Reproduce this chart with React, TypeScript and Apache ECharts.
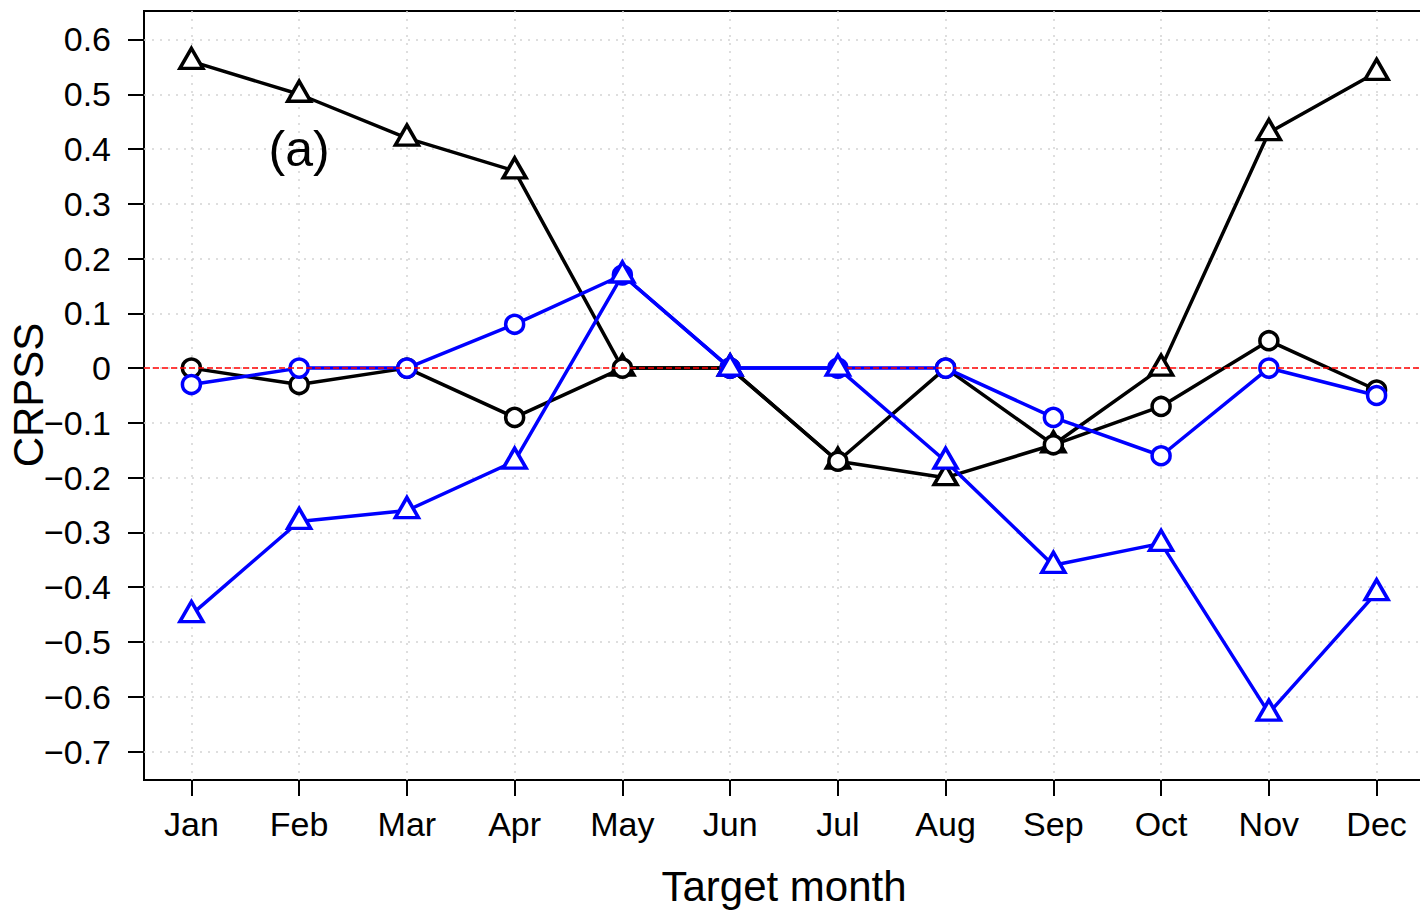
import React, { useEffect, useRef } from "react";
import * as echarts from "echarts";

const months = ["Jan", "Feb", "Mar", "Apr", "May", "Jun", "Jul", "Aug", "Sep", "Oct", "Nov", "Dec"];
const monthIdx = [0, 1, 2, 3, 4, 5, 6, 7, 8, 9, 10, 11];
const yTicks = [-0.7, -0.6, -0.5, -0.4, -0.3, -0.2, -0.1, 0, 0.1, 0.2, 0.3, 0.4, 0.5, 0.6];

const blackTriangle = [0.56, 0.5, 0.42, 0.36, 0, 0, -0.17, -0.2, -0.14, 0.0, 0.43, 0.54];
const blackCircle = [0, -0.03, 0, -0.09, 0, 0, -0.17, 0, -0.14, -0.07, 0.05, -0.04];
const blueCircle = [-0.03, 0, 0, 0.08, 0.17, 0, 0, 0, -0.09, -0.16, 0, -0.05];
const blueTriangle = [-0.45, -0.28, -0.26, -0.17, 0.17, 0, 0, -0.17, -0.36, -0.32, -0.63, -0.41];

const panelLabel = { text: "(a)", x: 1, y: 0.4 };
const yTitle = "CRPSS";
const xTitle = "Target month";

const FONT = "'Liberation Sans', Arial, Helvetica, sans-serif";

function pairs(vals: number[]) {
  return vals.map((v, i) => [monthIdx[i], v]);
}

function fmtY(v: number) {
  if (Math.abs(v) < 1e-9) return "0";
  return (v < 0 ? "\u2212" : "") + Math.abs(v).toFixed(1);
}

function lineSeries(name: string, vals: number[], color: string, symbol: string, z: number) {
  const tri = symbol === "triangle";
  return {
    name,
    type: "line",
    data: pairs(vals),
    z,
    symbol,
    symbolSize: tri ? [23, 20] : 18,
    symbolOffset: tri ? [0, -3] : [0, 0],
    showAllSymbol: true,
    lineStyle: { color, width: 3.5 },
    itemStyle: { color: "#ffffff", borderColor: color, borderWidth: 3.5 },
    emphasis: { disabled: true },
  };
}

export default function App() {
  const ref = useRef<HTMLDivElement>(null);
  useEffect(() => {
    if (!ref.current) return;
    const chart = echarts.init(ref.current, undefined, { renderer: "svg" });
    chart.setOption({
      animation: false,
      backgroundColor: "#ffffff",
      textStyle: { fontFamily: FONT },
      grid: {
        left: 144,
        top: 11,
        width: 1280,
        height: 769,
        show: true,
        borderColor: "#000",
        borderWidth: 2,
        backgroundColor: "transparent",
        containLabel: false,
        outerBoundsMode: "none",
      },
      xAxis: {
        type: "value",
        min: -0.44,
        max: 11.44,
        splitNumber: 12,
        axisLine: { show: false, onZero: false },
        axisTick: { show: true, length: 16, inside: false, lineStyle: { color: "#000", width: 2 }, customValues: monthIdx },
        axisLabel: {
          customValues: monthIdx,
          formatter: (v: number) => months[Math.round(v)] ?? "",
          fontSize: 34,
          color: "#000",
          fontFamily: FONT,
          margin: 27,
        },
        splitLine: { show: true, lineStyle: { color: "#d3d3d3", width: 1.5, type: [2, 6] } },
        name: xTitle,
        nameLocation: "middle",
        nameGap: 85,
        nameMoveOverlap: false,
        nameTextStyle: { fontSize: 42, color: "#000", fontFamily: FONT },
      },
      yAxis: {
        type: "value",
        min: -0.752,
        max: 0.652,
        splitNumber: 14,
        axisLine: { show: false, onZero: false },
        axisTick: { show: true, length: 16, inside: false, lineStyle: { color: "#000", width: 2 }, customValues: yTicks },
        axisLabel: {
          customValues: yTicks,
          formatter: (v: number) => fmtY(v),
          fontSize: 34,
          color: "#000",
          fontFamily: FONT,
          margin: 33,
        },
        splitLine: { show: true, lineStyle: { color: "#d3d3d3", width: 1.5, type: [2, 6] } },
      },
      series: [
        lineSeries("blackTriangle", blackTriangle, "#000000", "triangle", 2),
        lineSeries("blackCircle", blackCircle, "#000000", "circle", 3),
        lineSeries("blueCircle", blueCircle, "#0000ff", "circle", 4),
        lineSeries("blueTriangle", blueTriangle, "#0000ff", "triangle", 5),
        {
          type: "line",
          data: [],
          z: 10,
          markLine: {
            silent: true,
            symbol: "none",
            label: { show: false },
            lineStyle: { color: "#ff0000", width: 1.5, type: [6, 3] },
            data: [{ yAxis: 0 }],
          },
        },
      ],
    });
    const p = chart.convertToPixel({ gridIndex: 0 }, [panelLabel.x, panelLabel.y]) as number[];
    chart.setOption({
      graphic: [
        {
          type: "text",
          x: p[0],
          y: p[1],
          z: 20,
          style: {
            text: panelLabel.text,
            fontSize: 50,
            fontFamily: FONT,
            fill: "#000",
            align: "center",
            verticalAlign: "middle",
          },
        },
        {
          type: "text",
          x: 28,
          y: 395,
          rotation: Math.PI / 2,
          z: 20,
          style: {
            text: yTitle,
            fontSize: 42,
            fontFamily: FONT,
            fill: "#000",
            align: "center",
            verticalAlign: "middle",
          },
        },
      ],
    });
    return () => chart.dispose();
  }, []);
  return (
    <div style={{ position: "absolute", left: 0, top: 0, width: 1420, height: 913, overflow: "hidden", background: "#fff" }}>
      <div ref={ref} style={{ width: 1426, height: 913 }} />
    </div>
  );
}
